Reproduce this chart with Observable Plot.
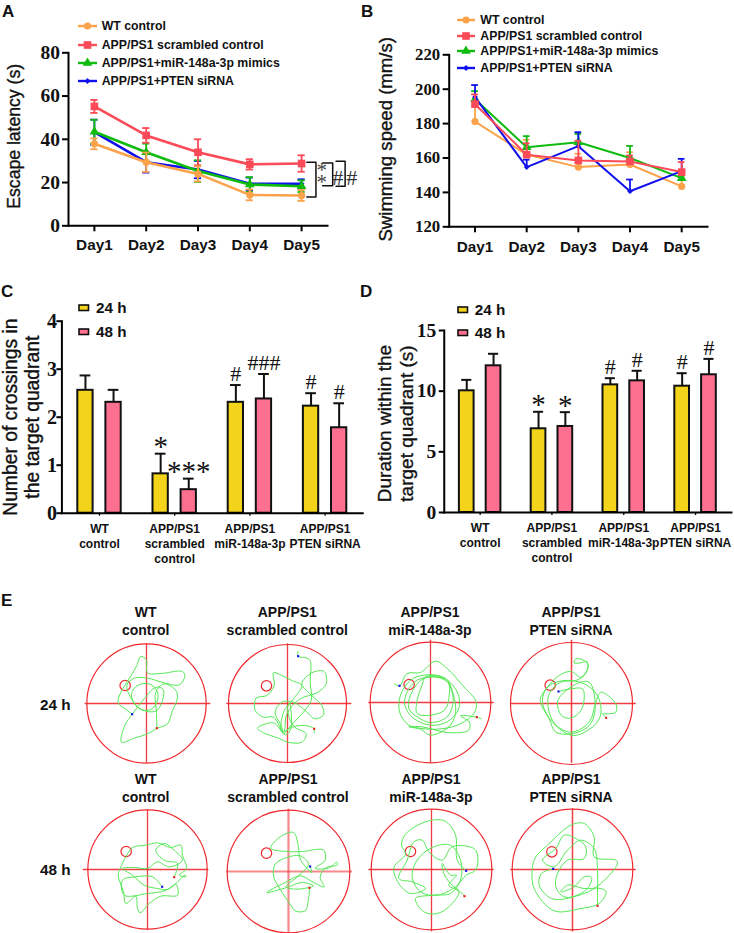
<!DOCTYPE html>
<html><head><meta charset="utf-8">
<script src="https://cdn.jsdelivr.net/npm/d3@7"></script>
<script src="https://cdn.jsdelivr.net/npm/@observablehq/plot@0.6"></script>
<style>
html,body{margin:0;padding:0;background:#fff}
#page{position:relative;width:734px;height:933px;overflow:hidden;font-family:"Liberation Sans",Arial,sans-serif;color:#111}
#page svg{position:absolute;background:transparent;overflow:visible}
.t{position:absolute;font-weight:700;white-space:pre;line-height:1}
.c{text-align:center;transform:translateX(-50%)}
</style></head><body><div id="page"></div>
<script>
const days=[1,2,3,4,5];
const seriesNames=["WT control","APP/PS1 scrambled control","APP/PS1+miR-148a-3p mimics","APP/PS1+PTEN siRNA"];
const seriesColors=["#fba24a","#fb4a58","#10bb10","#1010ee"];
const seriesSymbols=["circle","square","triangle","diamond2"];
const seriesR=[3.6,4.3,3.6,2.6];

const latencyWT=[37.9,29.4,24,14.3,14];
const latencyWTerr=[2.5,4.5,3.5,2.5,2.5];
const latencyScr=[55.2,41.8,34,28.4,28.8];
const latencyScrErr=[3,3.4,6,2.4,3.8];
const latencyMir=[43.5,34,25.3,19.1,18.3];
const latencyMirErr=[5.5,4,5,3.4,2.7];
const latencyPten=[43.3,29.4,26,19.4,19.4];
const latencyPtenErr=[5.8,4.8,4,2.9,2.1];

const speedWT=[181.2,162,154.7,156.2,143.5];
const speedWTtop=[190.5,170.6,162.5,163.4,149];
const speedScr=[191.3,161.9,158.6,158,151.8];
const speedScrTop=[197,168.6,170,161.5,157.6];
const speedMir=[194.2,166.3,169.2,160,148.3];
const speedMirTop=[198.9,172.7,174,167,150];
const speedPten=[195.4,154.7,166.9,140.7,152.4];
const speedPtenTop=[202.4,159,175,147.5,159.5];

const groups=["WT\ncontrol","APP/PS1\nscrambled\ncontrol","APP/PS1\nmiR-148a-3p","APP/PS1\nPTEN siRNA"];
const hours=["24 h","48 h"];
const hourColors=["#f3d41a","#ff7090"];
const cross24=[2.56,0.82,2.31,2.23];
const cross24top=[2.87,1.24,2.67,2.5];
const cross24mark=["","*","#","#"];
const cross48=[2.31,0.49,2.38,1.78];
const cross48top=[2.57,0.72,2.9,2.29];
const cross48mark=["","***","###","#"];
const dur24=[10.03,6.9,10.52,10.41];
const dur24top=[10.93,8.3,11.07,11.48];
const dur24mark=["","*","#","#"];
const dur48=[12.09,7.09,10.85,11.35];
const dur48top=[13.08,8.27,11.68,12.66];
const dur48mark=["","*","#","#"];

const brackets=[
 {id:1,pts:[[5.10,29.4],[5.277,29.4],[5.277,13.3],[5.10,13.3]]},
 {id:2,pts:[[5.406,29],[5.6,29],[5.6,18.5],[5.406,18.5]]},
 {id:3,pts:[[5.665,29.9],[5.84,29.9],[5.84,18.3],[5.665,18.3]]}
];
const bracketMarks=[[5.387,22.5,"*\n*"],[5.697,22,"#"],[5.968,22,"#"]];

const SANS='"Liberation Sans",Arial,sans-serif', SERIF='"Liberation Serif","Times New Roman",serif';
const page=document.getElementById("page");
function place(svg,l,t){svg.style.left=l+"px";svg.style.top=t+"px";page.appendChild(svg);}
function txt(s,l,t,size,cls="",extra=""){const d=document.createElement("div");d.className="t "+cls;d.textContent=s;d.style.cssText=`left:${l}px;top:${t-size/2}px;font-size:${size}px;${extra}`;page.appendChild(d);return d;}

function rows(vals,extra){return days.map((day,i)=>({day,v:vals[i],...extra(i)}));}
function linePanel({series,yDomain,yTicks,ml,mr,mt,mb,w,h,left,fontY,title,titleDx,titleDy,titleSize,sw,extra=[],capW,padX,padY}){
  const marks=[
    Plot.frame({anchor:"left",strokeWidth:2,stroke:"#000"}),
    Plot.frame({anchor:"bottom",strokeWidth:2,stroke:"#000"}),
    Plot.axisY({ticks:yTicks,tickSize:6,tickPadding:padY,strokeWidth:2,fontFamily:SERIF,fontWeight:700,fontSize:fontY,label:null,stroke:"#000",fill:"#111"}),
    Plot.axisX({ticks:days,tickFormat:d=>"Day"+d,tickSize:6,tickPadding:padX,strokeWidth:2,fontFamily:SANS,fontWeight:700,fontSize:15.3,label:null,stroke:"#000",fill:"#111"}),
    Plot.text([title],{frameAnchor:"left",textAnchor:"middle",rotate:-90,dx:titleDx,dy:titleDy,fontFamily:SANS,fontSize:titleSize,fontWeight:400,fill:"#111",stroke:"#111",strokeWidth:0.35})
  ];
  for(const s of series){
    const c=seriesColors[s.i];
    marks.push(Plot.ruleX(s.data,{x:"day",y1:"lo",y2:"hi",stroke:c,strokeWidth:1.8}));
    marks.push(Plot.ruleY(s.data,{x1:d=>d.day-capW,x2:d=>d.day+capW,y:"hi",stroke:c,strokeWidth:1.8}));
    marks.push(Plot.ruleY(s.data.filter(d=>d.lo!==d.v),{x1:d=>d.day-capW,x2:d=>d.day+capW,y:"lo",stroke:c,strokeWidth:1.8}));
    marks.push(Plot.line(s.data,{x:"day",y:"v",stroke:c,strokeWidth:sw}));
    marks.push(Plot.dot(s.data,{x:"day",y:"v",symbol:()=>seriesSymbols[s.i],r:seriesR[s.i],fill:c}));
  }
  marks.push(...extra);
  place(Plot.plot({width:w,height:h,marginLeft:ml,marginRight:mr,marginTop:mt,marginBottom:mb,
    x:{type:"linear",domain:[0.5,5.5]},y:{domain:yDomain},marks}),left,0);
}

linePanel({
  series:[
    {i:3,data:rows(latencyPten,i=>({lo:latencyPten[i]-latencyPtenErr[i],hi:latencyPten[i]+latencyPtenErr[i]}))},
    {i:2,data:rows(latencyMir,i=>({lo:latencyMir[i]-latencyMirErr[i],hi:latencyMir[i]+latencyMirErr[i]}))},
    {i:1,data:rows(latencyScr,i=>({lo:latencyScr[i]-latencyScrErr[i],hi:latencyScr[i]+latencyScrErr[i]}))},
    {i:0,data:rows(latencyWT,i=>({lo:latencyWT[i]-latencyWTerr[i],hi:latencyWT[i]+latencyWTerr[i]}))}
  ],
  yDomain:[0,80],yTicks:[0,20,40,60,80],w:367,h:260,ml:68,mr:40,mt:52.3,mb:34.7,left:0,fontY:19.5,
  title:"Escape latency (s)",titleDx:-53.7,titleDy:-3,titleSize:17.6,sw:2.6,capW:0.07,padX:7.5,padY:2.5,
  extra:[
    ...brackets.map(b=>Plot.line(b.pts,{x:d=>d[0],y:d=>d[1],stroke:"#111",strokeWidth:1.5})),
    Plot.text(bracketMarks.filter(d=>d[2]!="#"),{x:d=>d[0],y:d=>d[1],text:d=>d[2],fontFamily:SERIF,fontSize:21,lineHeight:0.56,fill:"#444",dy:2}),
    Plot.text(bracketMarks.filter(d=>d[2]=="#"),{x:d=>d[0],y:d=>d[1],text:d=>d[2],fontFamily:SERIF,fontSize:22,fill:"#333"})
  ]
});

linePanel({
  series:[
    {i:0,data:rows(speedWT,i=>({lo:speedWT[i],hi:speedWTtop[i]}))},
    {i:2,data:rows(speedMir,i=>({lo:speedMir[i],hi:speedMirTop[i]}))},
    {i:3,data:rows(speedPten,i=>({lo:speedPten[i],hi:speedPtenTop[i]}))},
    {i:1,data:rows(speedScr,i=>({lo:speedScr[i],hi:speedScrTop[i]}))}
  ],
  yDomain:[120,220],yTicks:[120,140,160,180,200,220],w:367,h:260,ml:81.7,mr:27,mt:54.3,mb:33.7,left:367,fontY:16.8,
  title:"Swimming speed (mm/s)",titleDx:-62.7,titleDy:-1.5,titleSize:18.6,sw:2,capW:0.065,padX:8,padY:3
});

function barPanel({v24,t24,m24,v48,t48,m48,yDomain,yTicks,ml,mr,mt,mb,w,h,left,top,title,titleDx,titleDy,titleSize,po,pi,pf,inset,fontY,padY}){
  const bars=[];
  groups.forEach((g,i)=>{
    bars.push({g,hour:hours[0],v:v24[i],top:t24[i],mark:m24[i]});
    bars.push({g,hour:hours[1],v:v48[i],top:t48[i],mark:m48[i]});
  });
  const stars=bars.filter(d=>d.mark&&d.mark.includes("*"));
  const hashes=bars.filter(d=>d.mark&&d.mark.includes("#"));
  place(Plot.plot({width:w,height:h,marginLeft:ml,marginRight:mr,marginTop:mt,marginBottom:mb,
    fx:{domain:groups,paddingInner:0,paddingOuter:pf,round:false,label:null},
    x:{domain:hours,paddingInner:pi,paddingOuter:po,round:false,axis:null},
    y:{domain:yDomain},
    color:{domain:hours,range:hourColors},
    marks:[
      Plot.ruleX(bars,{fx:"g",x:"hour",y1:"v",y2:"top",stroke:"#111",strokeWidth:2}),
      Plot.tickY(bars,{fx:"g",x:"hour",y:"top",stroke:"#111",strokeWidth:2,insetLeft:inset,insetRight:inset}),
      Plot.barY(bars,{fx:"g",x:"hour",y:"v",fill:"hour",stroke:"#111",strokeWidth:2}),
      Plot.text(stars,{fx:"g",x:"hour",y:"top",text:"mark",fontFamily:SERIF,fontSize:29,fill:"#111",lineAnchor:"top",dy:-18}),
      Plot.text(hashes,{fx:"g",x:"hour",y:"top",text:"mark",fontFamily:SERIF,fontSize:22,fill:"#111",lineAnchor:"bottom",dy:-4}),
      Plot.frame({anchor:"left",strokeWidth:2,stroke:"#000",facet:"super"}),
      Plot.frame({anchor:"bottom",strokeWidth:2,stroke:"#000",facet:"super"}),
      Plot.axisY({ticks:yTicks,tickFormat:"d",tickSize:5,tickPadding:padY,strokeWidth:2,fontFamily:SERIF,fontWeight:700,fontSize:fontY,label:null,stroke:"#000",fill:"#111"}),
      Plot.axisFx({anchor:"bottom",tickSize:3,tickPadding:6,strokeWidth:1.3,fontFamily:SANS,fontWeight:700,fontSize:12,lineHeight:1.25,label:null,fill:"#111",stroke:"#000"}),
      Plot.text([title],{frameAnchor:"left",textAnchor:"middle",rotate:-90,dx:titleDx,dy:titleDy,fontFamily:SANS,fontSize:titleSize,fontWeight:400,lineHeight:1.13,fill:"#111",stroke:"#111",strokeWidth:0.35,facet:"super"})
    ]}),left,top);
}
barPanel({v24:cross24,t24:cross24top,m24:cross24mark,v48:cross48,t48:cross48top,m48:cross48mark,
  yDomain:[0,4],yTicks:[0,1,2,3,4],w:367,h:290,left:0,top:280,ml:64.3,mr:7.7,mt:40.7,mb:57.3,
  title:"Number of crossings in\nthe target quadrant",titleDx:-41,titleDy:0,titleSize:19.3,pi:0.455,po:0.566,pf:-0.0385,inset:2.3,fontY:20,padY:0});
barPanel({v24:dur24,t24:dur24top,m24:dur24mark,v48:dur48,t48:dur48top,m48:dur48mark,
  yDomain:[0,15],yTicks:[0,5,10,15],w:367,h:290,left:367,top:280,ml:81.7,mr:8,mt:50,mb:58,
  title:"Duration within the\ntarget quadrant (s)",titleDx:-49,titleDy:2,titleSize:19,pi:0.4515,po:0.565,pf:-0.069,inset:2.3,fontY:19.5,padY:3});

/* ---- panel E: tracks, in 3x picture units of each quadrant ---- */
const trackWT24=[[394,386],[375,372],[352,352],[358,325],[375,295],[392,268],[408,240],[420,213],[436,222],[440,262],[480,264],[545,258],[552,272],[535,298],[490,292],[440,278],[400,278],[378,300],[395,345],[420,372],[450,372],[468,350],[470,320],[445,295],[410,300],[392,325],[405,360],[440,378],[468,375],[485,345],[487,312],[465,305],[430,340],[395,385],[372,420],[362,470],[400,458],[440,445],[470,428],[500,415],[515,375],[528,345],[527,318],[490,295],[465,320],[467,380],[468,428]];
const trackScr24=[[893,198],[894,212],[928,222],[930,290],[933,345],[905,385],[872,420],[850,445],[845,425],[825,380],[845,350],[880,350],[915,375],[945,400],[970,388],[965,360],[935,330],[905,295],[935,262],[972,258],[978,295],[950,322],[900,340],[860,385],[850,440],[820,412],[772,428],[790,442],[835,458],[862,470],[905,470],[918,445],[880,422],[862,370],[868,352],[872,430],[855,448],[820,395],[790,395],[765,375],[768,338],[800,330],[822,300],[820,262],[845,270],[875,285],[905,300],[880,340],[850,380],[845,440],[875,425],[915,420],[942,430],[942,442]];
const trackMir24=[[82,296],[97,302],[120,265],[160,262],[205,228],[240,250],[290,305],[327,350],[320,385],[270,420],[210,432],[165,430],[125,420],[97,380],[100,330],[130,285],[170,270],[225,275],[270,320],[275,370],[240,410],[190,420],[140,400],[113,360],[120,320],[150,285],[200,275],[240,290],[258,345],[240,395],[190,412],[150,395],[125,370],[130,330],[170,280],[240,285],[245,340],[232,375],[190,390],[150,385],[150,345],[165,300],[175,275],[235,280],[255,315],[265,385],[245,425],[190,450],[160,432],[125,425],[165,425],[240,442],[305,435],[306,410],[280,392],[329,396],[342,401]];
const trackPten24=[[573,318],[610,310],[645,310],[650,340],[640,375],[610,398],[582,390],[570,350],[590,320],[640,290],[665,290],[680,325],[680,390],[660,425],[610,445],[565,440],[545,400],[518,345],[530,318],[575,270],[610,258],[640,275],[660,250],[658,228],[640,232],[620,232],[625,220],[650,225],[662,240],[650,270],[625,285],[580,290],[545,325],[545,380],[570,425],[620,450],[680,420],[700,385],[690,330],[650,295],[590,285],[540,305],[525,350],[555,410],[610,440],[665,410],[685,350],[700,320],[745,355],[745,380],[720,385],[705,385],[716,397]];
const trackWT48=[[484,380],[455,350],[405,350],[365,360],[370,405],[440,400],[490,392],[520,375],[552,345],[556,350],[535,345],[557,325],[545,285],[540,255],[510,262],[470,248],[435,255],[395,262],[375,290],[358,325],[352,345],[368,395],[375,430],[405,408],[410,445],[418,458],[445,430],[480,408],[530,405],[525,372],[500,388],[470,385],[430,375],[395,345],[365,325],[400,322],[440,325],[470,305],[505,320],[545,300],[520,270],[490,250],[465,270],[490,300],[530,310],[520,351]];
const trackScr48=[[930,317],[935,335],[900,295],[895,260],[880,215],[840,228],[812,262],[860,272],[905,272],[970,268],[975,298],[945,322],[985,322],[1010,304],[1012,312],[975,322],[960,350],[972,378],[935,362],[900,345],[855,365],[800,395],[860,380],[905,365],[940,375],[890,385],[858,378],[895,345],[925,310],[900,285],[860,290],[825,310],[820,345],[840,385],[870,430],[885,450],[915,450],[925,415],[928,381]];
const trackMir48=[[297,332],[270,300],[265,225],[232,182],[175,185],[115,222],[103,255],[115,282],[80,322],[95,370],[130,400],[175,385],[135,365],[95,355],[120,300],[140,245],[165,240],[185,275],[225,300],[255,260],[320,265],[332,290],[325,330],[297,345],[265,380],[210,405],[160,395],[135,350],[150,300],[195,262],[250,255],[280,300],[280,360],[250,400],[200,405],[145,415],[170,455],[210,460],[245,440],[275,395],[245,375],[268,345],[250,345],[225,310],[230,340],[250,370],[280,395],[292,408]];
const trackPten48=[[557,326],[522,340],[515,375],[552,415],[610,412],[660,385],[672,352],[650,350],[620,380],[580,395],[600,375],[650,385],[700,385],[716,395],[695,430],[640,445],[560,452],[500,385],[495,320],[505,290],[540,255],[610,195],[650,190],[680,230],[680,290],[745,300],[750,310],[700,370],[650,400],[590,410],[565,380],[570,340],[600,300],[650,295],[655,260],[625,235],[590,225],[565,265],[525,300],[560,320],[600,270],[640,240],[680,265],[690,330],[690,400],[690,437]];

const arenaRows=[
 {track:trackWT24,cx:437,cy:354,rad:179,plat:[373,300],startPt:[394,386],endPt:[468,428],ox:0,oy:585,xs:[253,627],ys:[175,530],sw:1.3},
 {track:trackScr24,cx:862,cy:354,rad:177,plat:[799,301],startPt:[894,212],endPt:[942,430],ox:0,oy:585,xs:[680,1052],ys:[175,530],sw:1.3},
 {track:trackMir24,cx:190,cy:352,rad:181,plat:[126,298],startPt:[97,302],endPt:[329,396],ox:367,oy:585,xs:[5,378],ys:[165,530],sw:1.3},
 {track:trackPten24,cx:612,cy:354,rad:183,plat:[548,299],startPt:[573,318],endPt:[716,397],ox:367,oy:585,xs:[430,803],ys:[165,530],sw:1.5},
 {track:trackWT48,cx:440,cy:328,rad:179,plat:[376,274],startPt:[484,380],endPt:[520,351],ox:0,oy:760,xs:[247,621],ys:[150,508],sw:1.3},
 {track:trackScr48,cx:865,cy:332,rad:184,plat:[799,277],startPt:[930,317],endPt:[928,381],ox:0,oy:760,xs:[681,1053],ys:[146,515],sw:2.2},
 {track:trackMir48,cx:193,cy:328,rad:181,plat:[130,274],startPt:[297,332],endPt:[292,408],ox:367,oy:760,xs:[5,378],ys:[150,512],sw:1.3},
 {track:trackPten48,cx:615,cy:328,rad:181,plat:[553,275],startPt:[557,326],endPt:[690,437],ox:367,oy:760,xs:[430,803],ys:[146,512],sw:1.5}
];
const HALF=80;
arenaRows.forEach(a=>{
  const crossOp=a.sw>1.5?0.55:0.9;
  const svg=Plot.plot({width:HALF*2,height:HALF*2,margin:0,
    x:{domain:[a.cx-HALF*3,a.cx+HALF*3],axis:null},y:{domain:[a.cy-HALF*3,a.cy+HALF*3],reverse:true,axis:null},
    marks:[
      Plot.dot([[a.cx,a.cy]],{x:d=>d[0],y:d=>d[1],r:a.rad/3,stroke:"#f0282d",strokeWidth:1.2,fill:"none"}),
      Plot.line([[a.xs[0],a.cy],[a.xs[1],a.cy]],{x:d=>d[0],y:d=>d[1],stroke:"#f0282d",strokeWidth:a.sw,strokeOpacity:crossOp}),
      Plot.line([[a.cx,a.ys[0]],[a.cx,a.ys[1]]],{x:d=>d[0],y:d=>d[1],stroke:"#f0282d",strokeWidth:a.sw,strokeOpacity:crossOp}),
      Plot.dot([a.plat],{x:d=>d[0],y:d=>d[1],r:5.2,stroke:"#f0282d",strokeWidth:1.2,fill:"none"}),
      Plot.line(a.track,{x:d=>d[0],y:d=>d[1],stroke:"#55e855",strokeWidth:1,curve:"catmull-rom"}),
      Plot.dot([a.startPt],{x:d=>d[0],y:d=>d[1],symbol:"square",r:1.2,fill:"#1010ee"}),
      Plot.dot([a.endPt],{x:d=>d[0],y:d=>d[1],symbol:"square",r:1.2,fill:"#e62020"})
    ]});
  place(svg,a.cx/3+a.ox-HALF,a.cy/3+a.oy-HALF);
});

/* ---- text and legends ---- */
[["A",2,11],["B",361,11],["C",1,291],["D",360,291],["E",1,600]].forEach(([s,l,t])=>txt(s,l,t,17));
function lineLegend(x0,x1,tx,ys){
  seriesNames.forEach((n,i)=>{
    const s=document.createElementNS("http://www.w3.org/2000/svg","svg");
    s.setAttribute("width",x1-x0+8);s.setAttribute("height",14);
    d3.select(s).append("line").attr("x1",4).attr("x2",x1-x0+4).attr("y1",7).attr("y2",7).attr("stroke",seriesColors[i]).attr("stroke-width",2.4);
    const sym={circle:d3.symbolCircle,square:d3.symbolSquare,triangle:d3.symbolTriangle,diamond2:d3.symbolDiamond2}[seriesSymbols[i]];
    d3.select(s).append("path").attr("transform",`translate(${4+(x1-x0)/2},7)`).attr("d",d3.symbol(sym,Math.PI*seriesR[i]*seriesR[i])()).attr("fill",seriesColors[i]);
    place(s,x0-4,ys[i]-7);
    txt(n,tx,ys[i],12.3);
  });
}
lineLegend(78,97,101.7,[26.3,45,63.3,81.3]);
lineLegend(457,475,480.3,[19.7,36,51,68]);
function barLegend(x0,tx,ys){
  hours.forEach((h,i)=>{
    const s=document.createElementNS("http://www.w3.org/2000/svg","svg");
    s.setAttribute("width",12);s.setAttribute("height",8);
    d3.select(s).append("rect").attr("x",1).attr("y",1).attr("width",9.5).attr("height",5.5).attr("fill",hourColors[i]).attr("stroke","#111").attr("stroke-width",1.6);
    place(s,x0-1,ys[i]-4);
    txt(h,tx,ys[i],15.3);
  });
}
barLegend(79.3,96,[308,331.7]);
barLegend(458,474.7,[310,333]);

const titles=[["WT\ncontrol",145.7,613],["APP/PS1\nscrambled control",287.3,613],["APP/PS1\nmiR-148a-3p",430,613],["APP/PS1\nPTEN siRNA",571,613],
 ["WT\ncontrol",145.7,780],["APP/PS1\nscrambled control",288,780],["APP/PS1\nmiR-148a-3p",431,780],["APP/PS1\nPTEN siRNA",571,780]];
titles.forEach(([s,x,y])=>{const d=txt(s,x,y,14,"c","line-height:17.5px;");d.style.top=(y-8.7)+"px";});
txt("24 h",40,705,15.3);txt("48 h",40,870,15.3);
</script></body></html>
